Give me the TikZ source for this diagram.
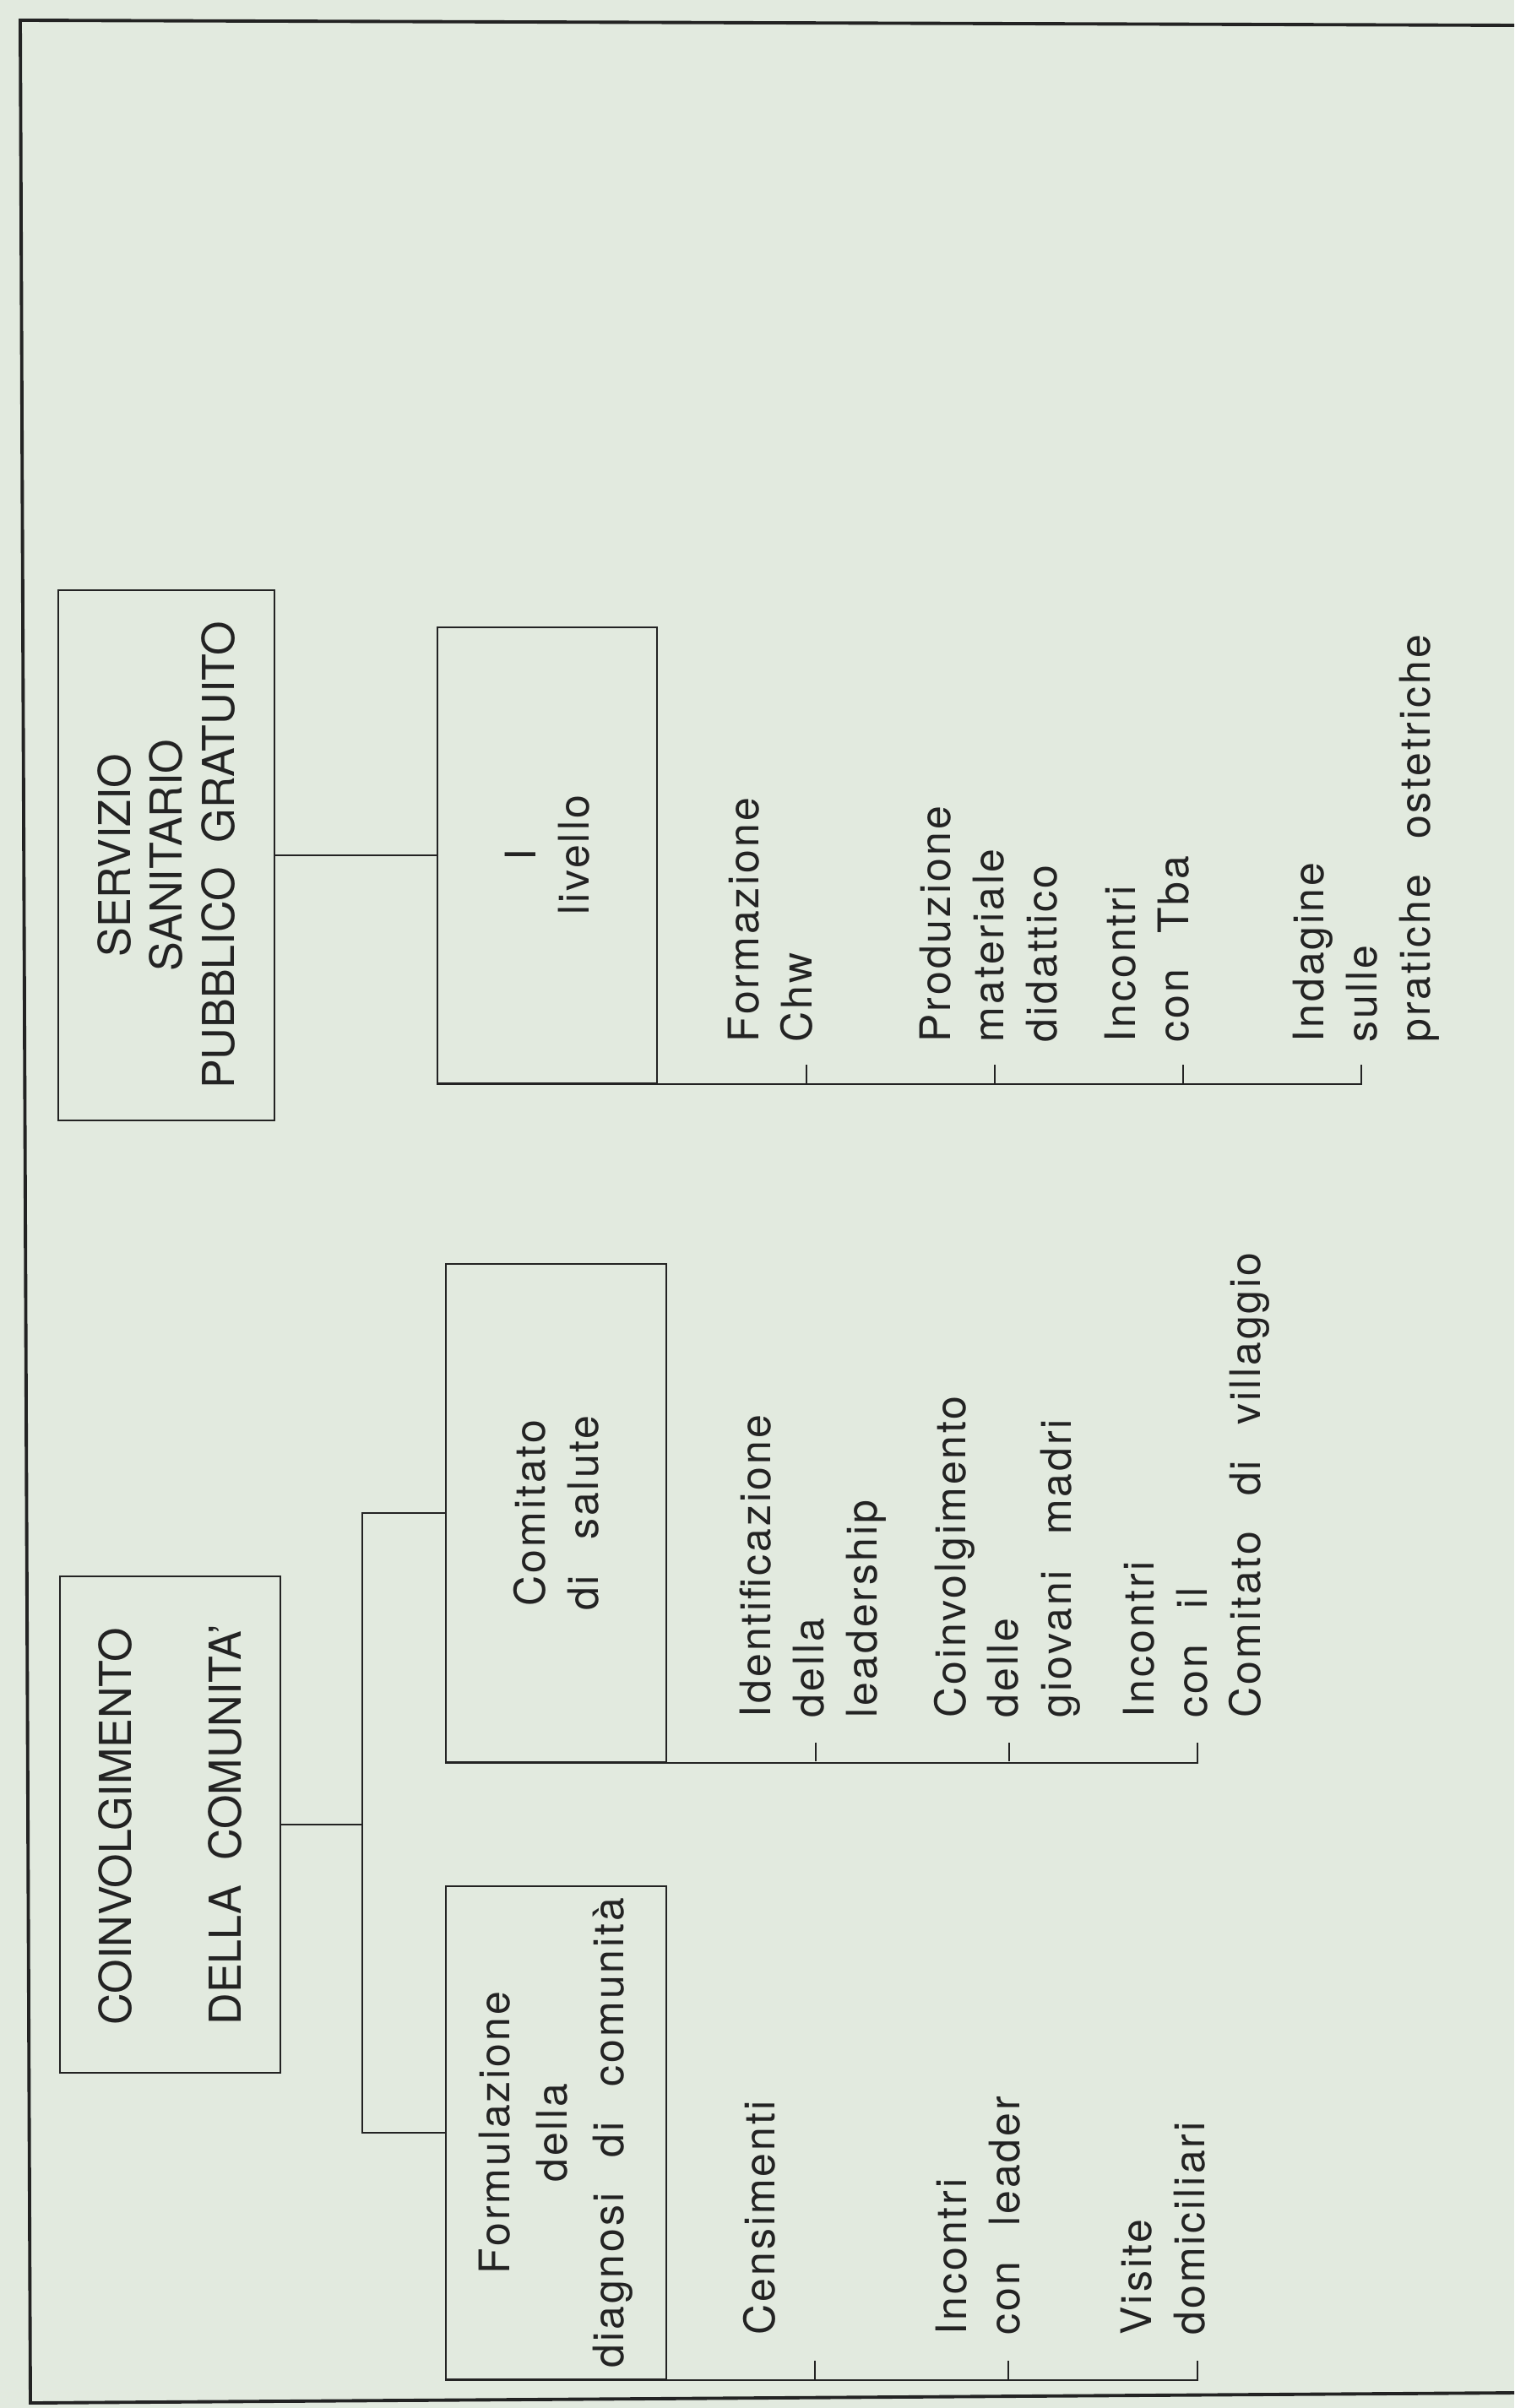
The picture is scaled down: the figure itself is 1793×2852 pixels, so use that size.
\documentclass[tikz,border=0pt]{standalone}
\usepackage{fontspec}
\setmainfont[WordSpace=2]{TeX Gyre Heros}
\newfontfamily\spacedfont[LetterSpace=6, WordSpace=2.5]{TeX Gyre Heros}
\usepackage{xcolor}

\definecolor{paper}{RGB}{226,234,223}
\definecolor{ink}{RGB}{35,35,35}

\begin{document}
\begin{tikzpicture}[
    x=0.01cm, y=-0.01cm,
    box/.style={draw=ink, line width=0.6pt, rotate=90, inner sep=0pt, text=ink},
    caps/.style={font=\fontsize{14.8}{17.6}\selectfont},
    lbl/.style={font=\spacedfont\fontsize{14.2}{17.9}\selectfont},
    item/.style={lbl, rotate=90, anchor=north west, inner sep=0pt, align=left, text=ink},
    wire/.style={draw=ink, line width=0.6pt}
  ]
  % Fondo e cornice
  \fill[paper] (0,0) rectangle (1793,2852);
  \useasboundingbox (0,0) rectangle (1793,2852);
  \draw[ink, line width=1.1pt] (1793,30) -- (24,24) -- (36,2846) -- (1793,2834);

  % Riquadri
  \node[box, caps, align=center, minimum width=6.28cm, minimum height=2.56cm] (serv) at (197,1013)
    {SERVIZIO\\SANITARIO\\PUBBLICO GRATUITO};
  \node[box, lbl, align=center, minimum width=5.40cm, minimum height=2.60cm] (liv) at (648,1013)
    {I\\livello};
  \node[box, align=left, font=\fontsize{14.8}{37}\selectfont, minimum width=5.88cm, minimum height=2.61cm] (coin) at (201.5,2161)
    {COINVOLGIMENTO\\DELLA COMUNITA'};
  \node[box, lbl, align=center, minimum width=5.89cm, minimum height=2.61cm] (comit) at (658.5,1792)
    {Comitato\\di salute};
  \node[box, lbl, align=center, font=\spacedfont\fontsize{14.2}{19.2}\selectfont, minimum width=5.84cm, minimum height=2.61cm] (form) at (658.5,2526)
    {Formulazione\\della\\diagnosi di comunità};

  % Collegamenti
  \coordinate (bus) at (429,2161);
  \draw[wire] (serv.south) -- (liv.north);
  \draw[wire] (coin.south) -- (bus);
  \draw[wire] (comit.north) -- (comit.north -| bus) -- (form.north -| bus) -- (form.north);

  % Attivita' del I livello
  \node[item] (forchw) at (861,1235) {Formazione\\Chw};
  \node[item] (proddid) at (1088,1235) {Produzione\\materiale\\didattico};
  \node[item] (inctba) at (1307,1235) {Incontri\\con Tba};
  \node[item] (indost) at (1530,1235) {Indagine\\sulle\\pratiche ostetriche};
  \coordinate (livend) at (1612,1261);
  \draw[wire] (liv.north west) -| (livend);
  \foreach \x in {955,1178,1401} \draw[wire] (\x,1283) -- ++(0,-22);

  % Attivita' del comitato
  \node[item] (idlead) at (875,2035) {Identificazione\\della\\leadership};
  \node[item] (coinmad) at (1105,2035) {Coinvolgimento\\delle\\giovani madri};
  \node[item] (inccom) at (1329,2035) {Incontri\\con il\\Comitato di villaggio};
  \coordinate (comend) at (1418,2064);
  \draw[wire] (comit.north west) -| (comend);
  \foreach \x in {966,1195} \draw[wire] (\x,2086) -- ++(0,-22);

  % Diagnosi di comunita'
  \node[item] (cens) at (879,2766) {Censimenti};
  \node[item] (incled) at (1107,2766) {Incontri\\con leader};
  \node[item] (visdom) at (1326,2766) {Visite\\domiciliari};
  \coordinate (formend) at (1418,2796);
  \draw[wire] (form.north west) -| (formend);
  \foreach \x in {965,1194} \draw[wire] (\x,2818) -- ++(0,-22);
\end{tikzpicture}
\end{document}
